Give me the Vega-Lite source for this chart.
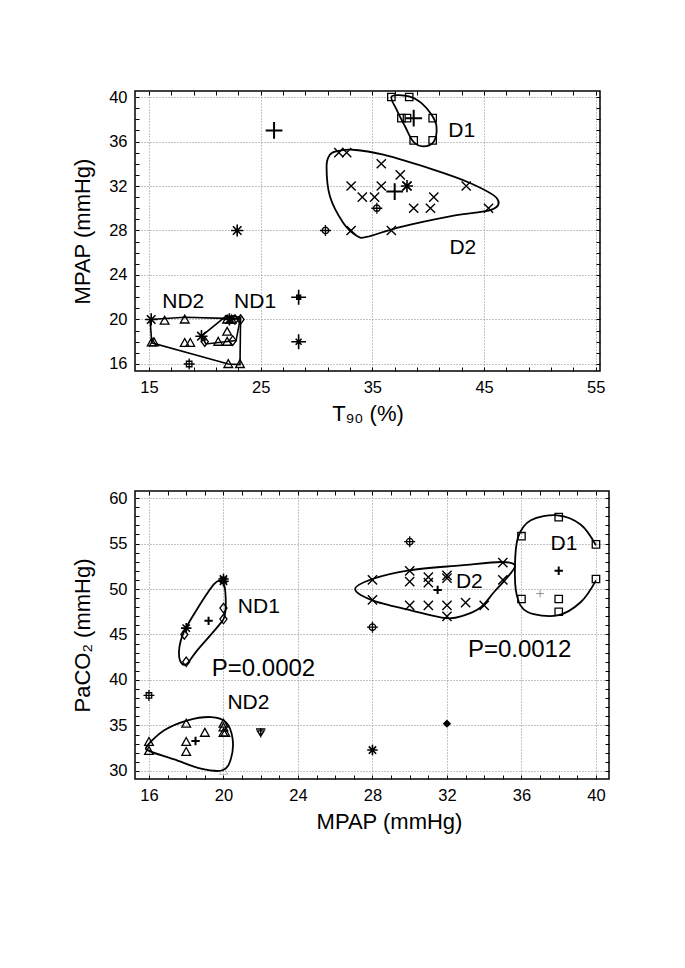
{
  "$schema": "https://vega.github.io/schema/vega-lite/v6.json",
  "background": "white",
  "padding": {"left": 70, "top": 88, "right": 5, "bottom": 5},
  "spacing": 63,
  "datasets": {
    "topPts": [
      {"x":36.7,"y":40,"s":"square"},{"x":38.3,"y":40,"s":"square"},{"x":37.6,"y":38.1,"s":"square"},{"x":38.1,"y":38.1,"s":"square"},{"x":40.4,"y":38.1,"s":"square"},{"x":38.7,"y":36.1,"s":"square"},{"x":40.4,"y":36.1,"s":"square"},
      {"x":38.7,"y":38.1,"s":"bigplus"},
      {"x":32.0,"y":35,"s":"x"},{"x":32.7,"y":35,"s":"x"},{"x":35.8,"y":34,"s":"x"},{"x":37.5,"y":33,"s":"x"},{"x":33.1,"y":32,"s":"x"},{"x":35.8,"y":32,"s":"x"},{"x":38.1,"y":32,"s":"x"},{"x":43.4,"y":32,"s":"x"},{"x":34.1,"y":31,"s":"x"},{"x":35.2,"y":31,"s":"x"},{"x":40.5,"y":31,"s":"x"},{"x":38.7,"y":30,"s":"x"},{"x":40.2,"y":30,"s":"x"},{"x":45.4,"y":30,"s":"x"},{"x":33.1,"y":28,"s":"x"},{"x":36.7,"y":28,"s":"x"},
      {"x":38.1,"y":32,"s":"asterisk"},
      {"x":37.0,"y":31.5,"s":"bigplus"},
      {"x":35.4,"y":30,"s":"circleplus"},{"x":30.8,"y":28,"s":"circleplus"},
      {"x":26.2,"y":37,"s":"bigplus"},
      {"x":22.9,"y":28,"s":"asterisk"},
      {"x":28.4,"y":22,"s":"bigsquareplus"},
      {"x":28.4,"y":18,"s":"bigplusast"},
      {"x":15.2,"y":20,"s":"asterisk"},
      {"x":16.4,"y":19.9,"s":"triangle"},{"x":18.2,"y":20,"s":"triangle"},{"x":15.25,"y":17.95,"s":"triangle"},{"x":15.45,"y":17.95,"s":"triangle"},{"x":18.2,"y":17.9,"s":"triangle"},{"x":18.7,"y":17.9,"s":"triangle"},{"x":21.2,"y":18,"s":"triangle"},{"x":22.0,"y":18,"s":"triangle"},{"x":22.0,"y":18.9,"s":"triangle"},{"x":22.1,"y":16,"s":"triangle"},{"x":23.15,"y":16,"s":"triangle"},{"x":22.0,"y":20,"s":"triangle"},{"x":22.4,"y":20,"s":"triangle"},
      {"x":20.0,"y":18,"s":"diamond"},{"x":22.5,"y":18.1,"s":"diamond"},{"x":22.7,"y":20,"s":"diamond"},{"x":23.2,"y":20,"s":"diamond"},
      {"x":19.7,"y":18.5,"s":"asterisk"},
      {"x":22.2,"y":20,"s":"asterisk"},
      {"x":18.6,"y":16,"s":"squareplus"}
    ],
    "topCurves": [
      {"c":"D1","o":1,"x":36.73,"y":40.06},{"c":"D1","o":2,"x":37.17,"y":38.86},{"c":"D1","o":3,"x":37.92,"y":37.37},{"c":"D1","o":4,"x":38.66,"y":36.0},{"c":"D1","o":5,"x":39.56,"y":35.56},{"c":"D1","o":6,"x":40.51,"y":36.0},{"c":"D1","o":7,"x":40.74,"y":37.37},{"c":"D1","o":8,"x":40.3,"y":38.4},{"c":"D1","o":9,"x":39.4,"y":39.45},{"c":"D1","o":10,"x":38.28,"y":40.06},
      {"c":"D2","o":1,"x":31.8,"y":35.12},{"c":"D2","o":2,"x":33.29,"y":35.26},{"c":"D2","o":3,"x":35.98,"y":34.81},{"c":"D2","o":4,"x":40.45,"y":33.47},{"c":"D2","o":5,"x":43.74,"y":32.27},{"c":"D2","o":6,"x":46.13,"y":30.92},{"c":"D2","o":7,"x":45.68,"y":29.87},{"c":"D2","o":8,"x":41.95,"y":29.28},{"c":"D2","o":9,"x":37.47,"y":28.31},{"c":"D2","o":10,"x":34.49,"y":27.42},{"c":"D2","o":11,"x":33.59,"y":27.53},{"c":"D2","o":12,"x":32.4,"y":28.67},{"c":"D2","o":13,"x":31.2,"y":31.07},{"c":"D2","o":14,"x":30.9,"y":33.77},{"c":"D2","o":15,"x":31.2,"y":34.81}
    ],
    "topPolys": [
      {"c":"ND2","o":1,"x":15.1,"y":20},{"c":"ND2","o":2,"x":18.2,"y":20.2},{"c":"ND2","o":3,"x":21.8,"y":20.1},{"c":"ND2","o":4,"x":23.2,"y":20.05},{"c":"ND2","o":5,"x":23.15,"y":15.95},{"c":"ND2","o":6,"x":22.1,"y":16},{"c":"ND2","o":7,"x":15.25,"y":17.9},
      {"c":"ND1","o":1,"x":19.7,"y":18.5},{"c":"ND1","o":2,"x":21.9,"y":20.3},{"c":"ND1","o":3,"x":23.2,"y":20.2},{"c":"ND1","o":4,"x":22.8,"y":18.1},{"c":"ND1","o":5,"x":20.1,"y":17.8}
    ],
    "topText": [
      {"x":43.0,"y":36.95,"t":"D1"},{"x":43.1,"y":26.4,"t":"D2"},{"x":18.07,"y":21.6,"t":"ND2"},{"x":24.5,"y":21.6,"t":"ND1"}
    ],
    "botPts": [
      {"x":20,"y":50.85,"s":"asterisk_s"},{"x":20,"y":51.1,"s":"asterisk_s"},{"x":18,"y":45.7,"s":"asterisk_s"},{"x":28,"y":32.3,"s":"asterisk_s"},
      {"x":20,"y":47.9,"s":"diamond"},{"x":20,"y":46.7,"s":"diamond"},{"x":17.9,"y":45,"s":"diamond"},{"x":18,"y":42,"s":"diamond"},
      {"x":19.2,"y":46.5,"s":"plus"},{"x":18.5,"y":33.3,"s":"plus"},{"x":31.5,"y":49.9,"s":"plus"},{"x":38,"y":52,"s":"plus"},
      {"x":37,"y":49.5,"s":"thinplus"},
      {"x":38,"y":57.9,"s":"square"},{"x":36,"y":55.8,"s":"square"},{"x":40,"y":54.9,"s":"square"},{"x":40,"y":51.1,"s":"square"},{"x":36,"y":48.9,"s":"square"},{"x":38,"y":48.9,"s":"square"},{"x":38,"y":47.5,"s":"square"},
      {"x":28,"y":51,"s":"x"},{"x":28,"y":48.8,"s":"x"},{"x":30,"y":52,"s":"x"},{"x":30,"y":50.8,"s":"x"},{"x":30,"y":48.2,"s":"x"},{"x":31,"y":51.3,"s":"x"},{"x":31,"y":50.7,"s":"x"},{"x":31,"y":48.2,"s":"x"},{"x":32,"y":51.2,"s":"x"},{"x":32,"y":51.5,"s":"x"},{"x":32,"y":48.2,"s":"x"},{"x":32,"y":47,"s":"x"},{"x":33,"y":48.5,"s":"x"},{"x":34,"y":48.2,"s":"x"},{"x":35,"y":52.9,"s":"x"},{"x":35,"y":51,"s":"x"},
      {"x":30,"y":55.2,"s":"circleplus"},{"x":28,"y":45.8,"s":"circleplus"},
      {"x":16,"y":38.3,"s":"squareplus"},
      {"x":16,"y":33.2,"s":"triangle"},{"x":16,"y":32.2,"s":"triangle"},{"x":18,"y":35.2,"s":"triangle"},{"x":18,"y":33.2,"s":"triangle"},{"x":18,"y":32.1,"s":"triangle"},{"x":19,"y":34.2,"s":"triangle"},{"x":20,"y":35.2,"s":"triangle"},{"x":20,"y":34.8,"s":"triangle"},{"x":20,"y":34.2,"s":"triangle"},{"x":20.1,"y":34.2,"s":"triangle"},
      {"x":20,"y":30,"s":"tri_faint"},
      {"x":22,"y":34.2,"s":"tridownplus"}
    ],
    "botFilled": [{"x":32,"y":35.2}],
    "botCurves": [
      {"c":"ND1","o":1,"x":19.93,"y":50.77},{"c":"ND1","o":2,"x":20.1,"y":49.67},{"c":"ND1","o":3,"x":20.07,"y":47.1},{"c":"ND1","o":4,"x":19.75,"y":46.0},{"c":"ND1","o":5,"x":18.59,"y":43.26},{"c":"ND1","o":6,"x":17.97,"y":41.68},{"c":"ND1","o":7,"x":17.62,"y":42.53},{"c":"ND1","o":8,"x":17.8,"y":44.9},{"c":"ND1","o":9,"x":18.59,"y":47.8},{"c":"ND1","o":10,"x":19.52,"y":50.58},
      {"c":"ND2","o":1,"x":15.89,"y":32.71},{"c":"ND2","o":2,"x":16.82,"y":34.47},{"c":"ND2","o":3,"x":18.08,"y":35.57},{"c":"ND2","o":4,"x":19.33,"y":35.93},{"c":"ND2","o":5,"x":20.13,"y":35.38},{"c":"ND2","o":6,"x":20.49,"y":33.55},{"c":"ND2","o":7,"x":20.4,"y":31.35},{"c":"ND2","o":8,"x":19.96,"y":30.08},{"c":"ND2","o":9,"x":18.79,"y":30.25},{"c":"ND2","o":10,"x":17.36,"y":31.28},{"c":"ND2","o":11,"x":16.07,"y":32.16},
      {"c":"D2","o":1,"x":27.07,"y":50.0},{"c":"D2","o":2,"x":28.0,"y":51.1},{"c":"D2","o":3,"x":29.97,"y":52.05},{"c":"D2","o":4,"x":32.75,"y":52.6},{"c":"D2","o":5,"x":34.9,"y":52.97},{"c":"D2","o":6,"x":35.65,"y":52.6},{"c":"D2","o":7,"x":35.25,"y":51.3},{"c":"D2","o":8,"x":34.53,"y":49.67},{"c":"D2","o":9,"x":33.82,"y":48.0},{"c":"D2","o":10,"x":32.92,"y":47.1},{"c":"D2","o":11,"x":31.94,"y":46.8},{"c":"D2","o":12,"x":30.06,"y":47.66},{"c":"D2","o":13,"x":28.0,"y":48.76}
    ],
    "botOpen": [
      {"c":"D1","o":1,"x":40.0,"y":54.8},{"c":"D1","o":2,"x":39.19,"y":57.07},{"c":"D1","o":3,"x":37.94,"y":58.1},{"c":"D1","o":4,"x":36.5,"y":57.55},{"c":"D1","o":5,"x":35.82,"y":55.7},{"c":"D1","o":6,"x":35.65,"y":52.6},{"c":"D1","o":7,"x":35.75,"y":49.3},{"c":"D1","o":8,"x":36.33,"y":47.47},{"c":"D1","o":9,"x":37.94,"y":47.1},{"c":"D1","o":10,"x":39.19,"y":48.57},{"c":"D1","o":11,"x":40.0,"y":50.95}
    ],
    "botText": [
      {"x":21.9,"y":48.0,"t":"ND1"},{"x":21.34,"y":37.5,"t":"ND2"},{"x":33.2,"y":50.8,"t":"D2"},{"x":38.28,"y":54.9,"t":"D1"}
    ],
    "botP": [
      {"x":22.15,"y":41.2,"t":"P=0.0002"},{"x":35.9,"y":43.3,"t":"P=0.0012"}
    ]
  },
  "vconcat": [
    {
      "width": 465,
      "height": 280,
      "resolve": {"axis": {"x": "independent", "y": "independent"}},
      "layer": [
        {
          "data": {"name": "topPts"},
          "mark": {"type": "point", "filled": false, "opacity": 1},
          "encoding": {
            "x": {"field": "x", "type": "quantitative", "scale": {"domain": [13.75, 55.38], "nice": false, "zero": false},
              "axis": {"title": "T₉₀ (%)", "values": [15,17,19,21,23,25,27,29,31,33,35,37,39,41,43,45,47,49,51,53,55],
                "labelExpr": "(datum.value - 15) % 10 === 0 ? datum.label : ''",
                "gridOpacity": {"condition": {"test": "(datum.value - 15) % 10 === 0", "value": 1}, "value": 0},
                "tickSize": -4, "labelPadding": 12, "titlePadding": 8}},
            "y": {"field": "y", "type": "quantitative", "scale": {"domain": [15.37, 40.54], "nice": false, "zero": false},
              "axis": {"title": "MPAP (mmHg)", "values": [16,17,18,19,20,21,22,23,24,25,26,27,28,29,30,31,32,33,34,35,36,37,38,39,40],
                "labelExpr": "(datum.value - 16) % 4 === 0 ? datum.label : ''",
                "gridOpacity": {"condition": {"test": "(datum.value - 16) % 4 === 0", "value": 1}, "value": 0},
                "tickSize": -4, "labelPadding": 12, "titlePadding": 14}},
            "shape": {"field": "s", "type": "nominal", "legend": null, "scale": {"type": "ordinal", "domain": ["x","square","triangle","diamond","asterisk","asterisk_s","bigplus","plus","thinplus","circleplus","squareplus","bigsquareplus","bigplusast","tridownplus","tri_faint"],
              "range": ["M-1,-1L1,1M-1,1L1,-1","M-1,-1H1V1H-1Z","M0,-1L1,0.8H-1Z","M0,-1L0.75,0L0,1L-0.75,0Z","M-1,0H1M0,-1V1M-0.7,-0.7L0.7,0.7M-0.7,0.7L0.7,-0.7","M-1,0H1M0,-1V1M-0.7,-0.7L0.7,0.7M-0.7,0.7L0.7,-0.7","M-1,0H1M0,-1V1","M-1,0H1M0,-1V1","M-1,0H1M0,-1V1","M-0.6,0A0.6,0.6,0,1,1,0.6,0A0.6,0.6,0,1,1,-0.6,0M-1,0H1M0,-1V1","M-0.5,-0.5H0.5V0.5H-0.5ZM-1,0H1M0,-1V1","M-0.25,-0.25H0.25V0.25H-0.25ZM-1,0H1M0,-1V1","M-1,0H1M0,-1V1M-0.4,-0.4L0.4,0.4M-0.4,0.4L0.4,-0.4","M-0.7,-0.4H0.7L0,0.7ZM-1,-0.8H1M0,-1V1","M0,-1L1,0.8H-1Z"]}},
            "size": {"field": "s", "type": "nominal", "legend": null, "scale": {"type": "ordinal", "domain": ["x","square","triangle","diamond","asterisk","asterisk_s","bigplus","plus","thinplus","circleplus","squareplus","bigsquareplus","bigplusast","tridownplus","tri_faint"],
              "range": [85,55,76,90,150,110,280,70,60,120,120,220,220,90,70]}},
            "strokeWidth": {"field": "s", "type": "nominal", "legend": null, "scale": {"type": "ordinal", "domain": ["x","square","triangle","diamond","asterisk","asterisk_s","bigplus","plus","thinplus","circleplus","squareplus","bigsquareplus","bigplusast","tridownplus","tri_faint"],
              "range": [1.4,1.3,1.3,1.3,1.6,1.6,2,2,0.8,1.3,1.3,1.6,1.6,1.4,1]}},
            "color": {"field": "s", "type": "nominal", "legend": null, "scale": {"type": "ordinal", "domain": ["x","square","triangle","diamond","asterisk","asterisk_s","bigplus","plus","thinplus","circleplus","squareplus","bigsquareplus","bigplusast","tridownplus","tri_faint"],
              "range": ["#000","#000","#000","#000","#000","#000","#000","#000","#777","#000","#000","#000","#000","#000","#bbb"]}}
          }
        },
        {
          "data": {"name": "topCurves"},
          "mark": {"type": "line", "interpolate": "cardinal-closed", "stroke": "black", "strokeWidth": 1.8},
          "encoding": {
            "x": {"field": "x", "type": "quantitative", "scale": {"domain": [13.75, 55.38], "nice": false, "zero": false},
              "axis": {"orient": "top", "title": null, "labels": false, "grid": false, "domain": false, "tickSize": -4, "values": [15,17,19,21,23,25,27,29,31,33,35,37,39,41,43,45,47,49,51,53,55]}},
            "y": {"field": "y", "type": "quantitative", "scale": {"domain": [15.37, 40.54], "nice": false, "zero": false},
              "axis": {"orient": "right", "title": null, "labels": false, "grid": false, "domain": false, "tickSize": -4, "values": [16,17,18,19,20,21,22,23,24,25,26,27,28,29,30,31,32,33,34,35,36,37,38,39,40]}},
            "detail": {"field": "c"},
            "order": {"field": "o", "type": "quantitative"}
          }
        },
        {
          "data": {"name": "topPolys"},
          "mark": {"type": "line", "interpolate": "linear-closed", "stroke": "black", "strokeWidth": 1.6},
          "encoding": {
            "x": {"field": "x", "type": "quantitative", "axis": null},
            "y": {"field": "y", "type": "quantitative", "axis": null},
            "detail": {"field": "c"},
            "order": {"field": "o", "type": "quantitative"}
          }
        },
        {
          "data": {"name": "topText"},
          "mark": {"type": "text", "font": "Liberation Sans", "fontSize": 21, "color": "black"},
          "encoding": {
            "x": {"field": "x", "type": "quantitative", "axis": null},
            "y": {"field": "y", "type": "quantitative", "axis": null},
            "text": {"field": "t"}
          }
        }
      ]
    },
    {
      "width": 474,
      "height": 288,
      "resolve": {"axis": {"x": "independent", "y": "independent"}},
      "layer": [
        {
          "data": {"name": "botPts"},
          "mark": {"type": "point", "filled": false, "opacity": 1},
          "encoding": {
            "x": {"field": "x", "type": "quantitative", "scale": {"domain": [15.25, 40.7], "nice": false, "zero": false},
              "axis": {"title": "MPAP (mmHg)", "titleX": 254, "values": [16,17,18,19,20,21,22,23,24,25,26,27,28,29,30,31,32,33,34,35,36,37,38,39,40],
                "labelExpr": "(datum.value - 16) % 4 === 0 ? datum.label : ''",
                "gridOpacity": {"condition": {"test": "(datum.value - 16) % 4 === 0", "value": 1}, "value": 0},
                "tickSize": -4, "labelPadding": 12, "titlePadding": 8}},
            "y": {"field": "y", "type": "quantitative", "scale": {"domain": [29.12, 60.77], "nice": false, "zero": false},
              "axis": {"title": "PaCO₂ (mmHg)", "values": [30,31,32,33,34,35,36,37,38,39,40,41,42,43,44,45,46,47,48,49,50,51,52,53,54,55,56,57,58,59,60],
                "labelExpr": "datum.value % 5 === 0 ? datum.label : ''",
                "gridOpacity": {"condition": {"test": "datum.value % 5 === 0", "value": 1}, "value": 0},
                "tickSize": -4, "labelPadding": 12, "titlePadding": 14}},
            "shape": {"field": "s", "type": "nominal", "legend": null, "scale": {"type": "ordinal", "domain": ["x","square","triangle","diamond","asterisk","asterisk_s","bigplus","plus","thinplus","circleplus","squareplus","bigsquareplus","bigplusast","tridownplus","tri_faint"],
              "range": ["M-1,-1L1,1M-1,1L1,-1","M-1,-1H1V1H-1Z","M0,-1L1,0.8H-1Z","M0,-1L0.75,0L0,1L-0.75,0Z","M-1,0H1M0,-1V1M-0.7,-0.7L0.7,0.7M-0.7,0.7L0.7,-0.7","M-1,0H1M0,-1V1M-0.7,-0.7L0.7,0.7M-0.7,0.7L0.7,-0.7","M-1,0H1M0,-1V1","M-1,0H1M0,-1V1","M-1,0H1M0,-1V1","M-0.6,0A0.6,0.6,0,1,1,0.6,0A0.6,0.6,0,1,1,-0.6,0M-1,0H1M0,-1V1","M-0.5,-0.5H0.5V0.5H-0.5ZM-1,0H1M0,-1V1","M-0.25,-0.25H0.25V0.25H-0.25ZM-1,0H1M0,-1V1","M-1,0H1M0,-1V1M-0.4,-0.4L0.4,0.4M-0.4,0.4L0.4,-0.4","M-0.7,-0.4H0.7L0,0.7ZM-1,-0.8H1M0,-1V1","M0,-1L1,0.8H-1Z"]}},
            "size": {"field": "s", "type": "nominal", "legend": null, "scale": {"type": "ordinal", "domain": ["x","square","triangle","diamond","asterisk","asterisk_s","bigplus","plus","thinplus","circleplus","squareplus","bigsquareplus","bigplusast","tridownplus","tri_faint"],
              "range": [85,55,76,90,150,110,280,70,60,120,120,220,220,90,70]}},
            "strokeWidth": {"field": "s", "type": "nominal", "legend": null, "scale": {"type": "ordinal", "domain": ["x","square","triangle","diamond","asterisk","asterisk_s","bigplus","plus","thinplus","circleplus","squareplus","bigsquareplus","bigplusast","tridownplus","tri_faint"],
              "range": [1.4,1.3,1.3,1.3,1.6,1.6,2,2,0.8,1.3,1.3,1.6,1.6,1.4,1]}},
            "color": {"field": "s", "type": "nominal", "legend": null, "scale": {"type": "ordinal", "domain": ["x","square","triangle","diamond","asterisk","asterisk_s","bigplus","plus","thinplus","circleplus","squareplus","bigsquareplus","bigplusast","tridownplus","tri_faint"],
              "range": ["#000","#000","#000","#000","#000","#000","#000","#000","#777","#000","#000","#000","#000","#000","#bbb"]}}
          }
        },
        {
          "data": {"name": "botCurves"},
          "mark": {"type": "line", "interpolate": "cardinal-closed", "stroke": "black", "strokeWidth": 1.8},
          "encoding": {
            "x": {"field": "x", "type": "quantitative", "scale": {"domain": [15.25, 40.7], "nice": false, "zero": false},
              "axis": {"orient": "top", "title": null, "labels": false, "grid": false, "domain": false, "tickSize": -4, "values": [16,17,18,19,20,21,22,23,24,25,26,27,28,29,30,31,32,33,34,35,36,37,38,39,40]}},
            "y": {"field": "y", "type": "quantitative", "scale": {"domain": [29.12, 60.77], "nice": false, "zero": false},
              "axis": {"orient": "right", "title": null, "labels": false, "grid": false, "domain": false, "tickSize": -4, "values": [30,31,32,33,34,35,36,37,38,39,40,41,42,43,44,45,46,47,48,49,50,51,52,53,54,55,56,57,58,59,60]}},
            "detail": {"field": "c"},
            "order": {"field": "o", "type": "quantitative"}
          }
        },
        {
          "data": {"name": "botOpen"},
          "mark": {"type": "line", "interpolate": "cardinal", "stroke": "black", "strokeWidth": 1.8},
          "encoding": {
            "x": {"field": "x", "type": "quantitative", "axis": null},
            "y": {"field": "y", "type": "quantitative", "axis": null},
            "detail": {"field": "c"},
            "order": {"field": "o", "type": "quantitative"}
          }
        },
        {
          "data": {"name": "botFilled"},
          "mark": {"type": "point", "filled": true, "shape": "diamond", "size": 70, "color": "black", "opacity": 1},
          "encoding": {
            "x": {"field": "x", "type": "quantitative", "axis": null},
            "y": {"field": "y", "type": "quantitative", "axis": null}
          }
        },
        {
          "data": {"name": "botText"},
          "mark": {"type": "text", "font": "Liberation Sans", "fontSize": 21, "color": "black"},
          "encoding": {
            "x": {"field": "x", "type": "quantitative", "axis": null},
            "y": {"field": "y", "type": "quantitative", "axis": null},
            "text": {"field": "t"}
          }
        },
        {
          "data": {"name": "botP"},
          "mark": {"type": "text", "font": "Liberation Sans", "fontSize": 24, "color": "black"},
          "encoding": {
            "x": {"field": "x", "type": "quantitative", "axis": null},
            "y": {"field": "y", "type": "quantitative", "axis": null},
            "text": {"field": "t"}
          }
        }
      ]
    }
  ],
  "config": {
    "font": "Liberation Sans",
    "view": {"stroke": "black", "strokeWidth": 1.5},
    "axis": {
      "labelFont": "Liberation Sans", "labelFontSize": 16.5, "labelColor": "black", "labelOverlap": false, "labelFlush": false,
      "titleFont": "Liberation Sans", "titleFontSize": 22, "titleFontWeight": "normal", "titleColor": "black",
      "domain": false, "gridColor": "#888", "gridDash": [1, 2], "gridWidth": 1,
      "tickColor": "black", "tickWidth": 1
    }
  }
}
